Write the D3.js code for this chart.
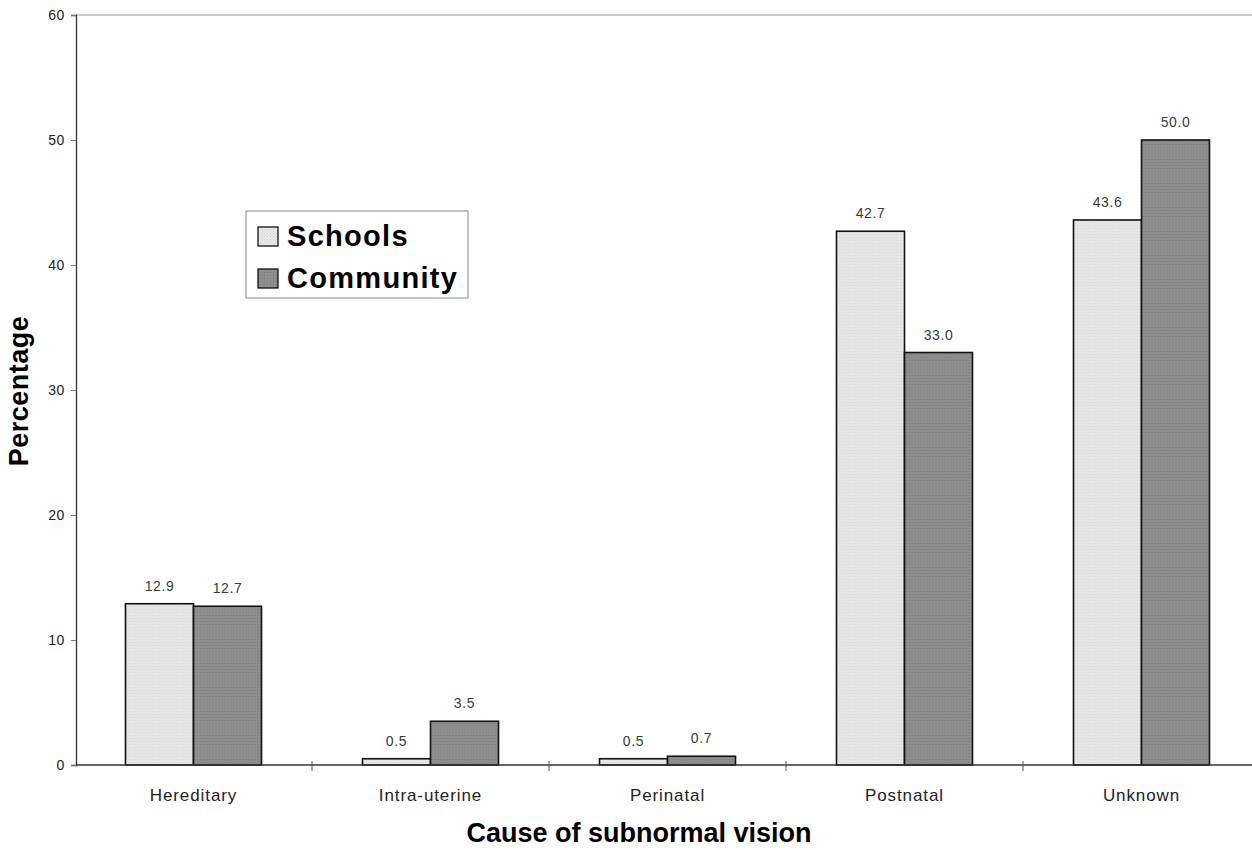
<!DOCTYPE html>
<html>
<head>
<meta charset="utf-8">
<script src="https://cdn.jsdelivr.net/npm/d3@7"></script>
<style>
  html, body { margin: 0; padding: 0; background: #fff; }
  svg { display: block; font-family: "Liberation Sans", Arial, sans-serif; }
</style>
</head>
<body>
<svg id="chart" width="1252" height="850"></svg>
<script>
// Causes of subnormal vision, percentage by sample
const categories = ["Hereditary", "Intra-uterine", "Perinatal", "Postnatal", "Unknown"];
const seriesNames = ["Schools", "Community"];
const schoolsValues = [12.9, 0.5, 0.5, 42.7, 43.6];
const communityValues = [12.7, 3.5, 0.7, 33.0, 50.0];
const yTicks = [0, 10, 20, 30, 40, 50, 60];

const fills = { Schools: "#e9e9e9", Community: "#8c8c8c" };

const svg = d3.select("#chart");
const defs = svg.append("defs");

// Fine stipple texture for the bars
const pat1 = defs.append("pattern").attr("id", "dotsLight")
  .attr("width", 3).attr("height", 3).attr("patternUnits", "userSpaceOnUse");
pat1.append("rect").attr("width", 3).attr("height", 3).attr("fill", fills.Schools);
pat1.append("rect").attr("x", 0).attr("y", 0).attr("width", 1).attr("height", 1).attr("fill", "#cfcfcf");
pat1.append("rect").attr("x", 1.5).attr("y", 1.5).attr("width", 1).attr("height", 1).attr("fill", "#d6d6d6");

const pat2 = defs.append("pattern").attr("id", "dotsDark")
  .attr("width", 3).attr("height", 3).attr("patternUnits", "userSpaceOnUse");
pat2.append("rect").attr("width", 3).attr("height", 3).attr("fill", fills.Community);
pat2.append("rect").attr("x", 0).attr("y", 0).attr("width", 1).attr("height", 1).attr("fill", "#7c7c7c");
pat2.append("rect").attr("x", 1.5).attr("y", 1.5).attr("width", 1).attr("height", 1).attr("fill", "#999");

const patternFor = { Schools: "url(#dotsLight)", Community: "url(#dotsDark)" };

const plotLeft = 76, plotTop = 15, plotBottom = 765;
const bandStart = 75, bandW = 237;

const x0 = d3.scaleBand().domain(categories).range([bandStart, bandStart + bandW * categories.length]).padding(0);
const groupW = 136;
const x1 = d3.scaleBand().domain(seriesNames).range([0, groupW]).padding(0);
const y = d3.scaleLinear().domain([0, 60]).range([plotBottom, plotTop]);

const rows = categories.map((c, i) => ({
  category: c,
  values: [
    { key: "Schools", value: schoolsValues[i] },
    { key: "Community", value: communityValues[i] }
  ]
}));

// Frame top line
svg.append("line")
  .attr("x1", plotLeft).attr("x2", 1252)
  .attr("y1", y(60)).attr("y2", y(60))
  .attr("stroke", "#999").attr("stroke-width", 1);

// Y axis
const yAxis = svg.append("g")
  .attr("transform", `translate(${plotLeft},0)`)
  .call(d3.axisLeft(y).tickValues(yTicks).tickSize(5).tickPadding(6).tickFormat(d3.format("d")));
yAxis.select(".domain").attr("stroke", "#333").attr("stroke-width", 1.3);
yAxis.selectAll(".tick line").attr("stroke", "#777");
yAxis.selectAll(".tick text").attr("font-size", 14).attr("fill", "#222")
  .attr("letter-spacing", 0.6)
  .attr("font-family", "'Liberation Sans', Arial, sans-serif");

// Bars
const groups = svg.append("g").selectAll("g")
  .data(rows).join("g")
  .attr("transform", d => `translate(${x0(d.category) + (x0.bandwidth() - groupW) / 2},0)`);

groups.selectAll("rect")
  .data(d => d.values).join("rect")
  .attr("x", d => x1(d.key))
  .attr("y", d => y(d.value))
  .attr("width", x1.bandwidth())
  .attr("height", d => y(0) - y(d.value))
  .attr("fill", d => patternFor[d.key])
  .attr("stroke", "#111").attr("stroke-width", 1.6);

// Value labels
groups.selectAll("text")
  .data(d => d.values).join("text")
  .attr("x", d => x1(d.key) + x1.bandwidth() / 2)
  .attr("y", d => y(d.value) - 13)
  .attr("text-anchor", "middle")
  .attr("font-size", 14)
  .attr("letter-spacing", 0.6)
  .attr("fill", "#3a3a3a")
  .text(d => d3.format(".1f")(d.value));

// X axis
const xAxis = svg.append("g")
  .attr("transform", `translate(0,${plotBottom})`);
xAxis.append("line")
  .attr("x1", plotLeft).attr("x2", 1252)
  .attr("y1", 0).attr("y2", 0)
  .attr("stroke", "#333").attr("stroke-width", 1.3);
xAxis.selectAll("line.sep")
  .data(categories.slice(1)).join("line")
  .attr("class", "sep")
  .attr("x1", d => x0(d)).attr("x2", d => x0(d))
  .attr("y1", -4).attr("y2", 6)
  .attr("stroke", "#555").attr("stroke-width", 1);
xAxis.selectAll("text.cat")
  .data(categories).join("text")
  .attr("class", "cat")
  .attr("x", d => x0(d) + x0.bandwidth() / 2)
  .attr("y", 36)
  .attr("text-anchor", "middle")
  .attr("font-size", 17)
  .attr("letter-spacing", 0.9)
  .attr("fill", "#222")
  .text(d => d);

// Axis titles
svg.append("text")
  .attr("x", 639).attr("y", 842)
  .attr("text-anchor", "middle")
  .attr("font-size", 27).attr("font-weight", "bold")
  .attr("fill", "#000")
  .text("Cause of subnormal vision");

svg.append("text")
  .attr("transform", "translate(28,391) rotate(-90)")
  .attr("text-anchor", "middle")
  .attr("font-size", 27).attr("font-weight", "bold")
  .attr("letter-spacing", 0.5)
  .attr("fill", "#000")
  .text("Percentage");

// Legend
const legend = svg.append("g").attr("transform", "translate(246,211)");
legend.append("rect")
  .attr("width", 222).attr("height", 87)
  .attr("fill", "#fff").attr("stroke", "#888").attr("stroke-width", 1);
seriesNames.forEach((name, i) => {
  const row = legend.append("g").attr("transform", `translate(12,${16 + i * 42})`);
  row.append("rect")
    .attr("width", 20).attr("height", 19)
    .attr("fill", patternFor[name]).attr("stroke", "#111").attr("stroke-width", 1.3);
  row.append("text")
    .attr("x", 29).attr("y", 19)
    .attr("font-size", 29).attr("font-weight", "bold")
    .attr("letter-spacing", 1.3)
    .attr("fill", "#000")
    .text(name);
});
</script>
</body>
</html>
